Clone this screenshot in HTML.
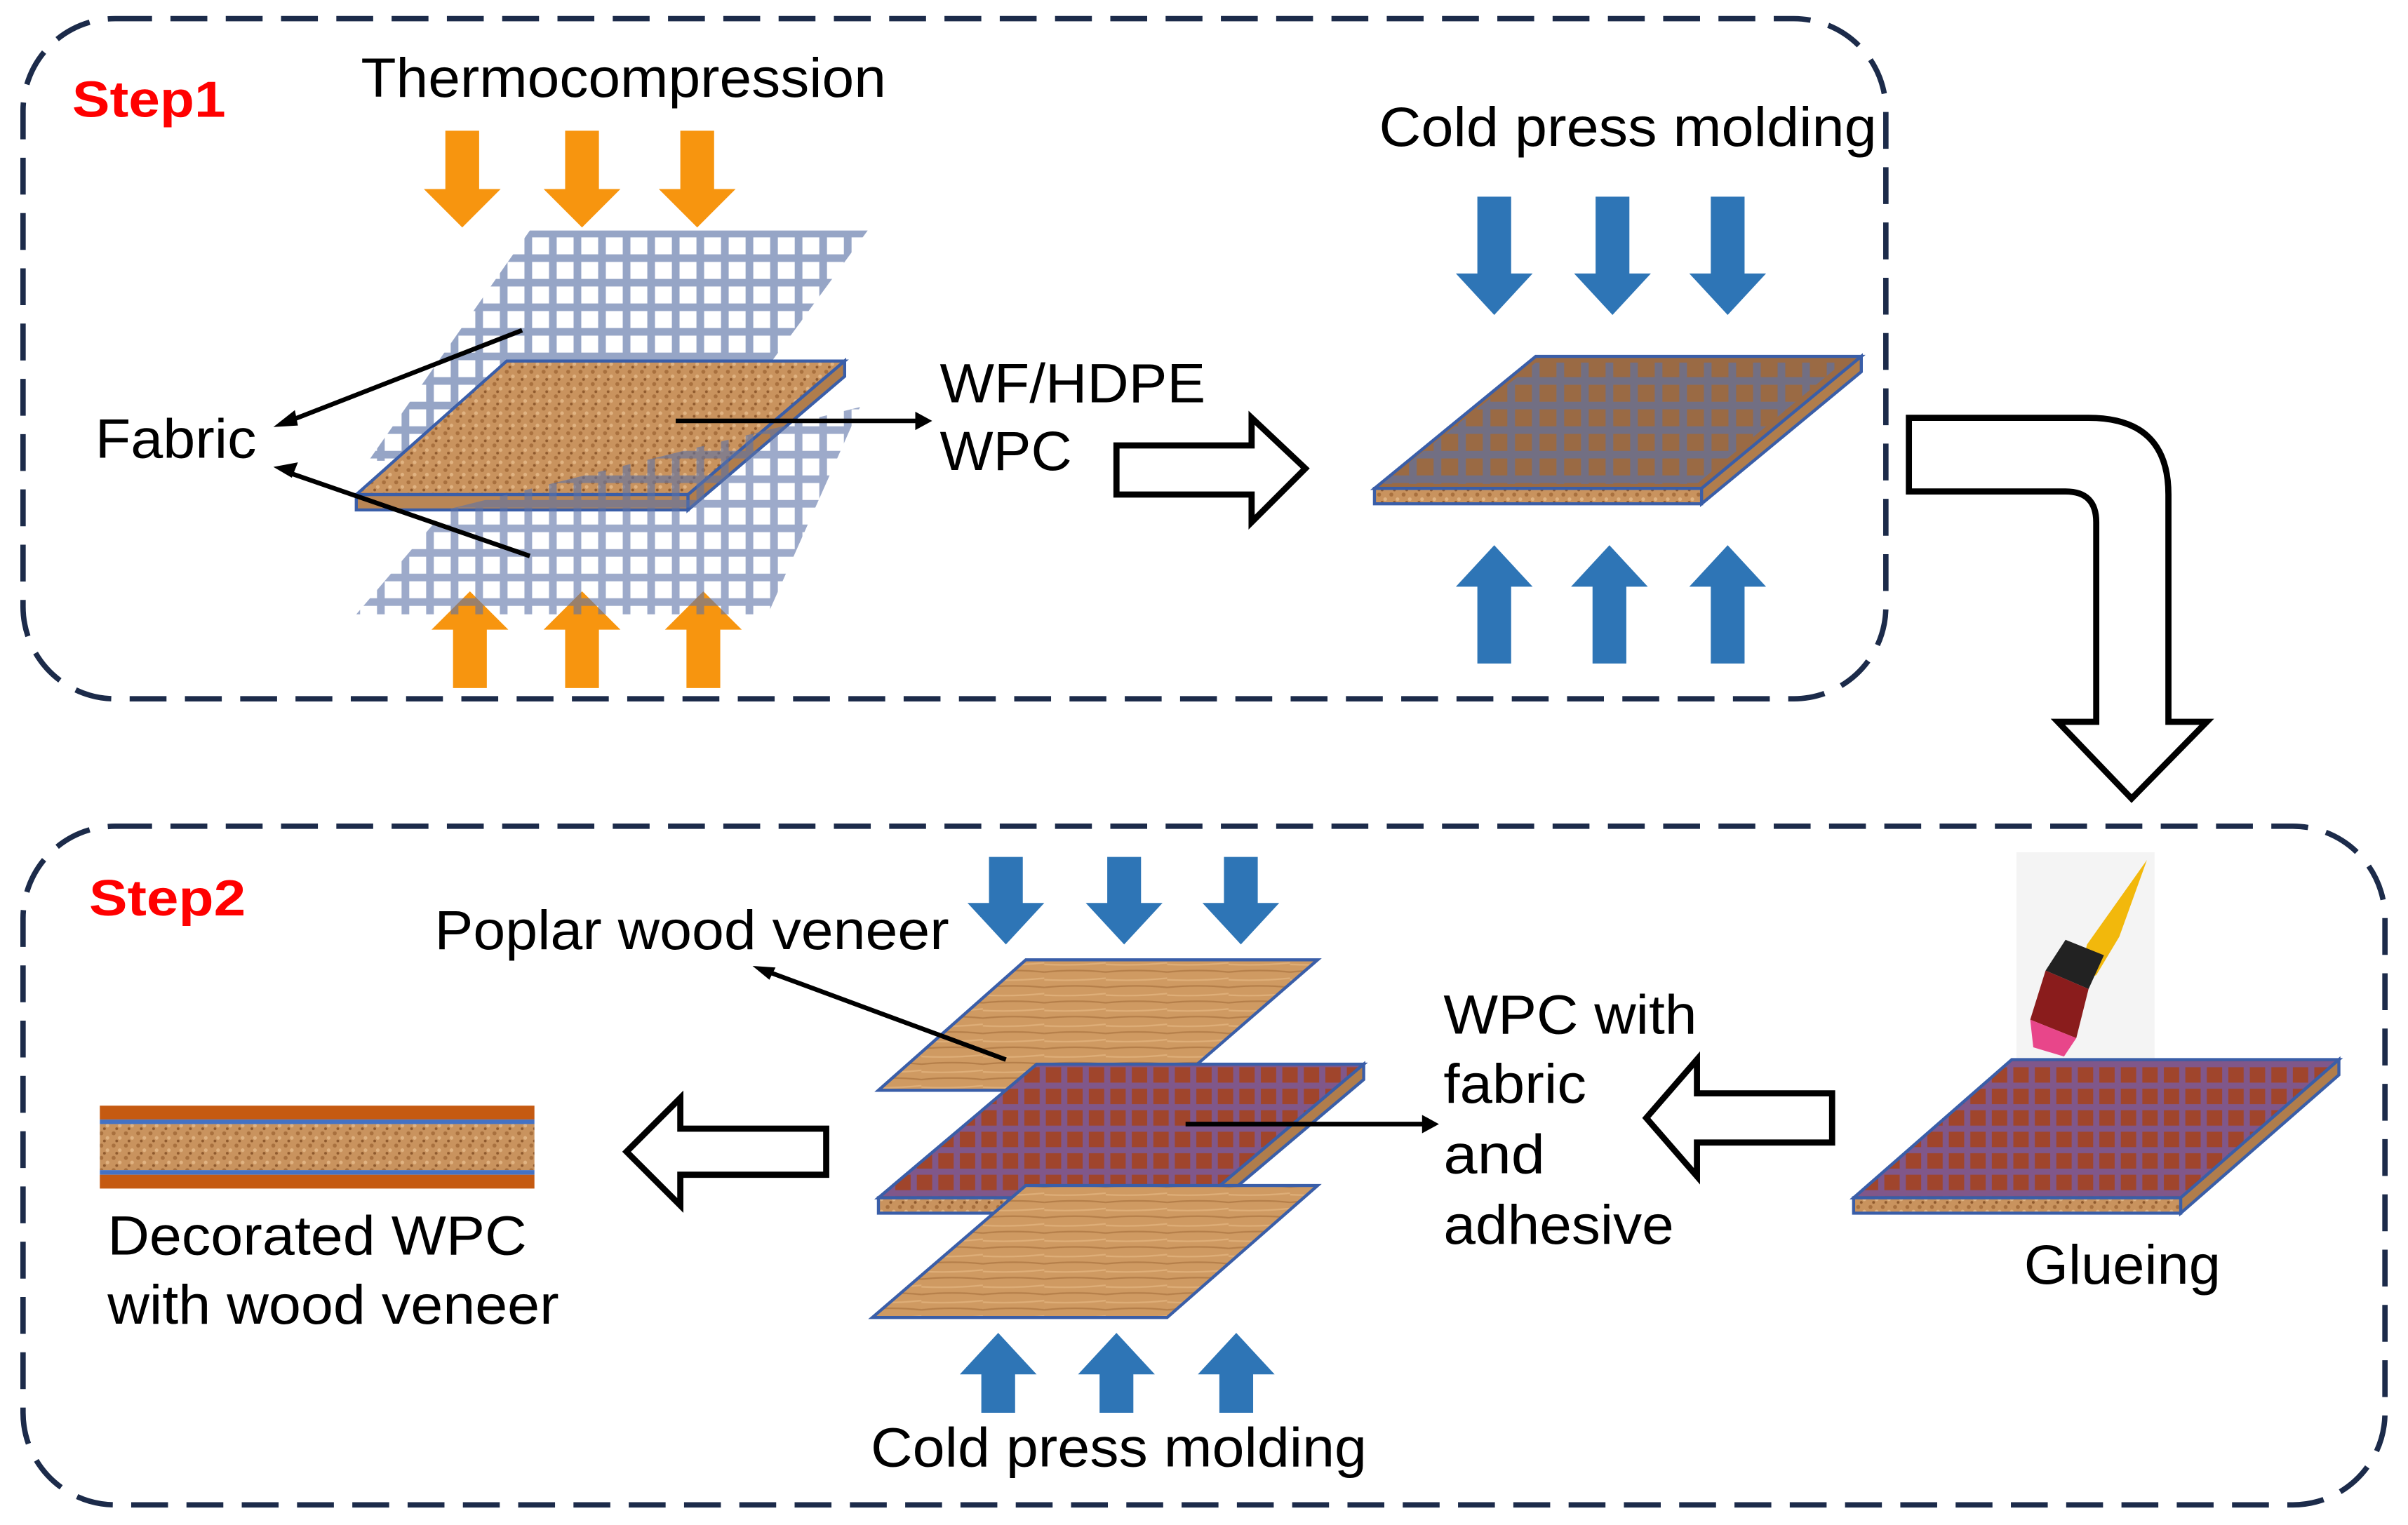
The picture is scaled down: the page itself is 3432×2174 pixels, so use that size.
<!DOCTYPE html>
<html><head><meta charset="utf-8"><style>html,body{margin:0;padding:0;background:#fff}svg{display:block}</style></head>
<body>
<svg width="3432" height="2174" viewBox="0 0 1568 993" xmlns="http://www.w3.org/2000/svg" font-family="Liberation Sans, sans-serif">
<defs>
<pattern id="wpc" width="8" height="8" patternUnits="userSpaceOnUse">
<rect width="8" height="8" fill="#c9935e"/><circle cx="2" cy="2" r="1.3" fill="#a8703e"/><circle cx="6" cy="5" r="1.2" fill="#e0b382"/><circle cx="4" cy="7" r="0.9" fill="#8f5a2e"/>
</pattern>
<pattern id="wood" width="40" height="10" patternUnits="userSpaceOnUse">
<rect width="40" height="10" fill="#cf9a62"/><path d="M0 3 Q20 1 40 3" stroke="#b57f4a" stroke-width="1" fill="none"/><path d="M0 8 Q20 9 40 7" stroke="#deae78" stroke-width="1" fill="none"/>
</pattern>
<pattern id="grid" width="16" height="16" patternUnits="userSpaceOnUse">
<path d="M0 8H16M8 0V16" stroke="#5b72a6" stroke-width="5" opacity="0.8"/>
</pattern>
<pattern id="rgrid" width="14" height="14" patternUnits="userSpaceOnUse">
<rect width="14" height="14" fill="#a0452c"/><path d="M0 7H14M7 0V14" stroke="#7a5a9a" stroke-width="4" opacity="0.85"/>
</pattern>
</defs>
<rect width="1568" height="993" fill="#fff"/>
<rect x="15" y="12" width="1213" height="443" rx="60" fill="none" stroke="#1c2b4a" stroke-width="3.5" stroke-dasharray="24,12"/>
<rect x="15" y="538" width="1538" height="442" rx="60" fill="none" stroke="#1c2b4a" stroke-width="3.5" stroke-dasharray="24,12"/>
<g font-size="36" lengthAdjust="spacingAndGlyphs">
<text x="47" y="76" font-size="33" font-weight="bold" fill="#ff0000" textLength="100" lengthAdjust="spacingAndGlyphs">Step1</text>
<text x="58" y="596" font-size="33" font-weight="bold" fill="#ff0000" textLength="102" lengthAdjust="spacingAndGlyphs">Step2</text>
<text x="235" y="63" textLength="342" lengthAdjust="spacingAndGlyphs">Thermocompression</text>
<text x="898" y="95" textLength="324" lengthAdjust="spacingAndGlyphs">Cold press molding</text>
<text x="612" y="262" textLength="173" lengthAdjust="spacingAndGlyphs">WF/HDPE</text>
<text x="612" y="306" textLength="86" lengthAdjust="spacingAndGlyphs">WPC</text>
<text x="62" y="298" textLength="105" lengthAdjust="spacingAndGlyphs">Fabric</text>
</g>
<g fill="#f7950f">
<path d="M290 85h22v38h14l-25 25l-25-25h14z"/>
<path d="M368 85h22v38h14l-25 25l-25-25h14z"/>
<path d="M443 85h22v38h14l-25 25l-25-25h14z"/>
<path d="M295 448h22v-38h14l-25-25l-25 25h14z"/>
<path d="M368 448h22v-38h14l-25-25l-25 25h14z"/>
<path d="M447 448h22v-38h14l-25-25l-25 25h14z"/>
</g>
<g fill="#2e75b6">
<path d="M962 128h22v50h14l-25 27l-25-27h14z"/>
<path d="M1039 128h22v50h14l-25 27l-25-27h14z"/>
<path d="M1114 128h22v50h14l-25 27l-25-27h14z"/>
<path d="M962 432h22v-50h14l-25-27l-25 27h14z"/>
<path d="M1037 432h22v-50h14l-25-27l-25 27h14z"/>
<path d="M1114 432h22v-50h14l-25-27l-25 27h14z"/>
<path d="M644 558h22v30h14l-25 27l-25-27h14z"/>
<path d="M721 558h22v30h14l-25 27l-25-27h14z"/>
<path d="M797 558h22v30h14l-25 27l-25-27h14z"/>
<path d="M639 920h22v-25h14l-25-27l-25 27h14z"/>
<path d="M716 920h22v-25h14l-25-27l-25 27h14z"/>
<path d="M794 920h22v-25h14l-25-27l-25 27h14z"/>
</g>
<polygon points="240,300 345,150 565,150 455,300" fill="url(#grid)" opacity="0.8"/>
<polygon points="232,322 330,235 550,235 448,322" fill="url(#wpc)" stroke="#3a5ea8" stroke-width="2"/>
<polygon points="232,322 448,322 448,332 232,332" fill="#b98655" stroke="#3a5ea8" stroke-width="2"/>
<polygon points="448,322 550,235 550,245 448,332" fill="#b07d4c" stroke="#3a5ea8" stroke-width="2"/>
<polygon points="232,400 290,332 560,265 500,400" fill="url(#grid)" opacity="0.75"/>
<polygon points="895,318 1000,232 1212,232 1108,318" fill="#9a6a44" stroke="#3a5ea8" stroke-width="2"/>
<polygon points="900,315 1000,236 1200,236 1105,315" fill="url(#grid)" opacity="0.8"/>
<polygon points="895,318 1108,318 1108,328 895,328" fill="url(#wpc)" stroke="#3a5ea8" stroke-width="2"/>
<polygon points="1108,318 1212,232 1212,242 1108,328" fill="#b07d4c" stroke="#3a5ea8" stroke-width="2"/>
<g stroke="#000" stroke-width="3" fill="none">
<line x1="340" y1="215" x2="186" y2="275"/><line x1="345" y1="362" x2="186" y2="307"/>
<line x1="440" y1="274" x2="598" y2="274"/>
</g>
<g fill="#000">
<path d="M178 278l14-11l2 10z"/><path d="M178 304l16-3l-4 10z"/><path d="M607 274l-11-6v12z"/><path d="M490 629l15 1l-4 8z"/><path d="M937 732l-11-6v12z"/>
</g>
<path d="M727 290h88v-18l35 33l-35 35v-18h-88z" fill="#fff" stroke="#000" stroke-width="4"/>
<path d="M1243 272h117q52 0 52 50v148h25l-49 50l-48-50h25v-130q0-20-20-20h-102z" fill="#fff" stroke="#000" stroke-width="4"/>
<polygon points="572,710 668,625 858,625 760,710" fill="url(#wood)" stroke="#3a5ea8" stroke-width="2"/>
<polygon points="572,780 675,693 888,693 785,780" fill="url(#rgrid)" stroke="#3a5ea8" stroke-width="2"/>
<polygon points="572,780 785,780 785,790 572,790" fill="url(#wpc)" stroke="#3a5ea8" stroke-width="2"/>
<polygon points="785,780 888,693 888,703 785,790" fill="#b07d4c" stroke="#3a5ea8" stroke-width="2"/>
<polygon points="568,858 668,772 858,772 760,858" fill="url(#wood)" stroke="#3a5ea8" stroke-width="2"/>
<line x1="655" y1="690" x2="498" y2="632" stroke="#000" stroke-width="3"/>
<line x1="772" y1="732" x2="928" y2="732" stroke="#000" stroke-width="3"/>
<g font-size="36">
<text x="283" y="618" textLength="335" lengthAdjust="spacingAndGlyphs">Poplar wood veneer</text>
<text x="940" y="673" textLength="165" lengthAdjust="spacingAndGlyphs">WPC with</text>
<text x="940" y="718" textLength="93" lengthAdjust="spacingAndGlyphs">fabric</text>
<text x="940" y="764" textLength="66" lengthAdjust="spacingAndGlyphs">and</text>
<text x="940" y="810" textLength="150" lengthAdjust="spacingAndGlyphs">adhesive</text>
<text x="1318" y="836" textLength="128" lengthAdjust="spacingAndGlyphs">Glueing</text>
<text x="70" y="817" textLength="273" lengthAdjust="spacingAndGlyphs">Decorated WPC</text>
<text x="70" y="862" textLength="294" lengthAdjust="spacingAndGlyphs">with wood veneer</text>
<text x="567" y="955" textLength="323" lengthAdjust="spacingAndGlyphs">Cold press molding</text>
</g>
<path d="M1193 712h-88v-22l-33 38l33 38v-22h88z" fill="#fff" stroke="#000" stroke-width="4"/>
<path d="M538 735h-95v-20l-35 35l35 35v-20h95z" fill="#fff" stroke="#000" stroke-width="4"/>
<rect x="1313" y="555" width="90" height="135" fill="#f4f4f4"/>
<path d="M1398 560l-18 50l-15 25l-12 5l6 -25z" fill="#f2b80c"/>
<path d="M1345 612l25 10l-10 22l-28-12z" fill="#222"/>
<path d="M1332 632l28 12l-8 32l-30-12z" fill="#8a1c1c"/>
<path d="M1322 664l30 12l-8 12l-20-6z" fill="#e8468a"/>
<polygon points="1207,780 1310,690 1523,690 1420,780" fill="url(#rgrid)" stroke="#3a5ea8" stroke-width="2"/>
<polygon points="1207,780 1420,780 1420,790 1207,790" fill="url(#wpc)" stroke="#3a5ea8" stroke-width="2"/>
<polygon points="1420,780 1523,690 1523,700 1420,790" fill="#b07d4c" stroke="#3a5ea8" stroke-width="2"/>
<rect x="65" y="720" width="283" height="9" fill="#c55a11"/>
<rect x="65" y="729" width="283" height="3" fill="#4472c4"/>
<rect x="65" y="732" width="283" height="30" fill="url(#wpc)"/>
<rect x="65" y="762" width="283" height="3" fill="#4472c4"/>
<rect x="65" y="765" width="283" height="9" fill="#c55a11"/>
</svg>
</body></html>
